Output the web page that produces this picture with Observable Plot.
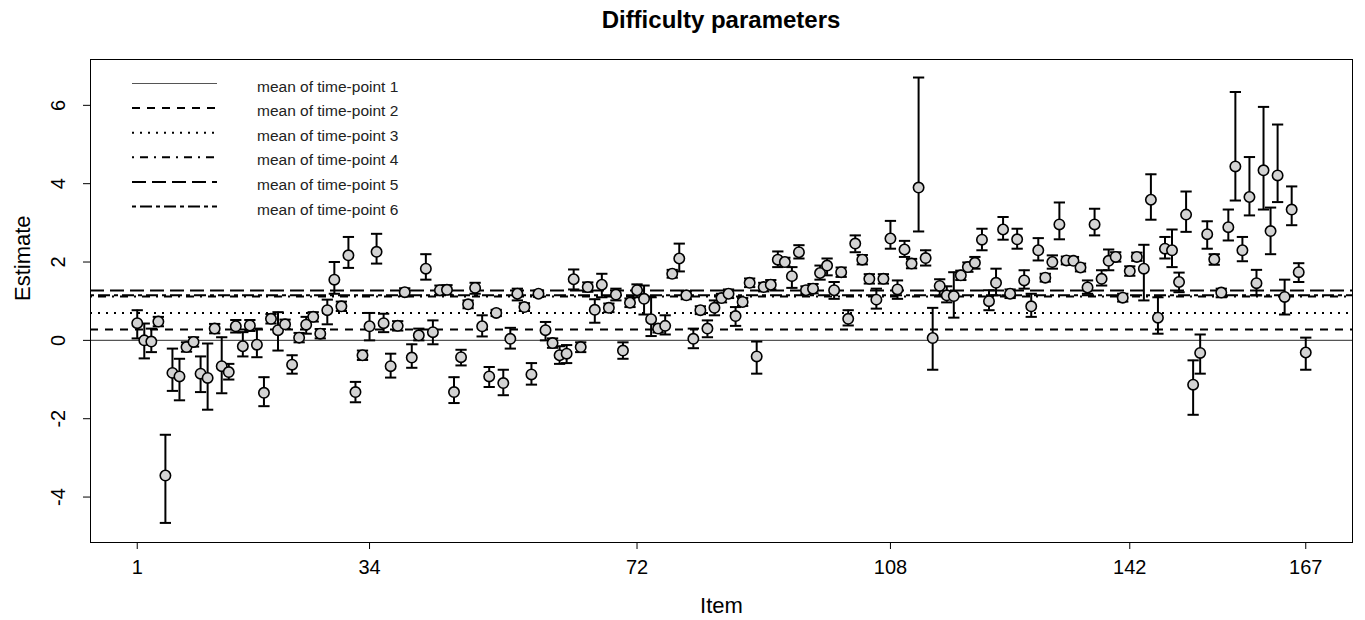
<!DOCTYPE html>
<html><head><meta charset="utf-8">
<script src="https://cdn.jsdelivr.net/npm/d3@7"></script>
<script src="https://cdn.jsdelivr.net/npm/@observablehq/plot@0.6"></script>
<style>
body{margin:0;background:#fff;font-family:"Liberation Sans",Arial,sans-serif;}
#wrap{position:relative;width:1365px;height:620px;overflow:hidden;}
#title{height:40px;line-height:40px;padding-left:90px;padding-right:13px;text-align:center;font-weight:bold;font-size:24px;color:#000;}
#legend{position:absolute;left:0;top:0;pointer-events:none;}
</style></head><body>
<div id="wrap"><div id="title">Difficulty parameters</div><div id="chart"></div><svg id="legend" width="1365" height="620"></svg></div>
<script>
const items = d3.range(1, 168);
const estimate = [0.44,0.0,-0.03,0.48,-3.45,-0.83,-0.92,-0.17,-0.04,-0.85,
-0.96,0.3,-0.66,-0.81,0.36,-0.15,0.38,-0.11,-1.34,0.55,
0.26,0.41,-0.62,0.07,0.4,0.6,0.17,0.77,1.55,0.87,
2.17,-1.32,-0.38,0.36,2.26,0.44,-0.66,0.37,1.23,-0.44,
0.13,1.83,0.21,1.28,1.29,-1.32,-0.43,0.92,1.34,0.36,
-0.92,0.7,-1.09,0.04,1.19,0.85,-0.87,1.19,0.26,-0.07,
-0.38,-0.34,1.56,-0.17,1.36,0.78,1.42,0.83,1.17,-0.26,
0.96,1.28,1.06,0.54,0.3,0.37,1.7,2.09,1.15,0.04,
0.77,0.3,0.83,1.08,1.19,0.62,0.98,1.47,-0.41,1.36,
1.42,2.06,2.0,1.64,2.25,1.28,1.32,1.72,1.91,1.28,
1.74,0.55,2.47,2.06,1.57,1.04,1.57,2.6,1.3,2.32,
1.96,3.9,2.1,0.06,1.39,1.15,1.13,1.66,1.87,1.98,
2.57,1.0,1.47,2.83,1.19,2.58,1.53,0.87,2.3,1.6,
2.0,2.96,2.04,2.03,1.86,1.35,2.96,1.57,2.03,2.13,
1.09,1.77,2.13,1.83,3.59,0.58,2.34,2.3,1.49,3.21,
-1.13,-0.32,2.71,2.07,1.22,2.89,4.44,2.3,3.66,1.46,
4.34,2.79,4.21,1.11,3.34,1.74,-0.31];
const lower = [0.05,-0.46,-0.3,0.36,-4.66,-1.29,-1.53,-0.29,-0.16,-1.32,
-1.77,0.18,-1.35,-1.0,0.2,-0.41,0.24,-0.43,-1.68,0.43,
-0.26,0.29,-0.85,-0.05,0.17,0.48,0.05,0.41,1.19,0.75,
1.85,-1.58,-0.5,0.0,1.96,0.21,-0.95,0.25,1.13,-0.7,
0.0,1.55,-0.1,1.16,1.17,-1.6,-0.64,0.82,1.19,0.1,
-1.19,0.62,-1.4,-0.21,1.02,0.75,-1.13,1.11,0.0,-0.19,
-0.6,-0.58,1.3,-0.3,1.24,0.45,1.1,0.72,1.02,-0.47,
0.85,1.1,0.66,0.11,0.2,0.15,1.6,1.76,1.05,-0.2,
0.67,0.08,0.64,0.97,1.08,0.37,0.88,1.36,-0.85,1.25,
1.3,1.87,1.89,1.34,2.09,1.18,1.2,1.55,1.66,1.06,
1.62,0.38,2.25,1.94,1.45,0.81,1.45,2.34,1.06,2.13,
1.84,2.78,1.91,-0.75,1.15,0.97,0.58,1.54,1.75,1.83,
2.3,0.77,1.15,2.57,1.08,2.34,1.32,0.6,2.04,1.5,
1.83,2.58,1.94,1.93,1.76,1.19,2.68,1.4,1.79,2.01,
0.99,1.65,2.03,1.02,3.08,0.17,2.09,1.87,1.23,2.77,
-1.9,-0.85,2.34,1.93,1.1,2.55,3.57,2.02,3.19,1.15,
3.34,2.2,3.53,0.66,2.94,1.49,-0.75];
const upper = [0.77,0.43,0.3,0.6,-2.41,-0.21,-0.47,-0.05,0.08,-0.41,
-0.08,0.42,0.08,-0.6,0.52,0.21,0.52,0.3,-0.94,0.67,
0.72,0.53,-0.38,0.19,0.6,0.72,0.29,1.04,2.0,0.99,
2.64,-1.06,-0.26,0.7,2.72,0.68,-0.34,0.49,1.33,-0.1,
0.3,2.2,0.51,1.4,1.41,-0.94,-0.24,1.02,1.47,0.64,
-0.68,0.78,-0.75,0.32,1.32,0.95,-0.58,1.27,0.47,0.05,
-0.15,-0.12,1.81,-0.05,1.48,1.05,1.7,0.94,1.32,-0.05,
1.07,1.43,1.4,1.1,0.4,0.64,1.8,2.47,1.25,0.3,
0.87,0.51,1.02,1.19,1.3,0.85,1.08,1.58,-0.03,1.47,
1.54,2.27,2.11,1.87,2.43,1.38,1.44,1.91,2.09,1.49,
1.86,0.77,2.68,2.18,1.69,1.32,1.69,3.05,1.53,2.54,
2.08,6.71,2.3,0.83,1.56,1.38,1.74,1.78,1.99,2.13,
2.85,1.28,1.83,3.15,1.3,2.85,1.79,1.19,2.61,1.7,
2.17,3.52,2.14,2.13,1.96,1.53,3.36,1.79,2.32,2.25,
1.19,1.89,2.24,2.44,4.24,1.1,2.64,2.83,1.73,3.8,
-0.51,0.15,3.04,2.2,1.32,3.34,6.34,2.64,4.68,1.8,
5.96,3.39,5.51,1.55,3.93,1.97,0.07];
const meanLabels = ["mean of time-point 1","mean of time-point 2","mean of time-point 3","mean of time-point 4","mean of time-point 5","mean of time-point 6"];
const meanValues = [0, 0.28, 0.7, 1.12, 1.27, 1.15];
const xTicks = [1, 34, 72, 108, 142, 167];
const yTicks = [-4, -2, 0, 2, 4, 6];

// line styles (R lty 1..6 at lwd 2)
const meanDash = [null, "8,7", "2,6", "2,6,8,6", "14,6", "4,4,12,4"];

const data = items.map((it, i) => ({item: it, est: estimate[i], lo: lower[i], hi: upper[i]}));
const capHalf = 0.8;

const plot = Plot.plot({
  width: 1365, height: 580,
  marginLeft: 90, marginRight: 13, marginTop: 19, marginBottom: 78,
  style: {fontFamily: "'Liberation Sans', Arial, sans-serif", fontSize: "20px", color: "black", background: "white"},
  x: {domain: [-5.64, 173.64]},
  y: {domain: [-5.16, 7.17]},
  marks: [
    ...meanValues.map((v, i) => Plot.ruleY([v], {
      stroke: i === 0 ? "#555" : "black",
      strokeWidth: i === 0 ? 1.2 : 2,
      strokeDasharray: meanDash[i] || undefined
    })),
    Plot.ruleX(data, {x: "item", y1: "lo", y2: "hi", stroke: "black", strokeWidth: 2}),
    Plot.link(data, {x1: d => d.item - capHalf, x2: d => d.item + capHalf, y1: "hi", y2: "hi", stroke: "black", strokeWidth: 2}),
    Plot.link(data, {x1: d => d.item - capHalf, x2: d => d.item + capHalf, y1: "lo", y2: "lo", stroke: "black", strokeWidth: 2}),
    Plot.dot(data, {x: "item", y: "est", r: 5.2, fill: "lightgray", stroke: "black", strokeWidth: 1.6}),
    Plot.frame({stroke: "black"}),
    Plot.axisX({ticks: xTicks, tickSize: 7, tickPadding: 10, tickFormat: d => String(d), label: null}),
    Plot.axisY({ticks: yTicks, tickSize: 7, tickRotate: -90, tickPadding: 19, tickFormat: d => String(d), label: null}),
    Plot.text(["Item"], {frameAnchor: "bottom", dy: 70, fontSize: 22}),
    Plot.text(["Estimate"], {frameAnchor: "left", dx: -68, rotate: -90, fontSize: 22})
  ]
});
document.getElementById("chart").appendChild(plot);

const leg = d3.select("#legend");
meanLabels.forEach((lab, i) => {
  const y = 86 + i * 24.6;
  leg.append("line")
    .attr("x1", 132).attr("x2", 217).attr("y1", y - 2.5).attr("y2", y - 2.5)
    .attr("stroke", i === 0 ? "#555" : "black")
    .attr("stroke-width", i === 0 ? 1.2 : 2)
    .attr("stroke-dasharray", meanDash[i]);
  leg.append("text")
    .attr("x", 257).attr("y", y)
    .attr("dominant-baseline", "central")
    .attr("font-family", "'Liberation Sans', Arial, sans-serif")
    .attr("font-size", 15.5)
    .attr("fill", "#222")
    .text(lab);
});
</script>
</body></html>
